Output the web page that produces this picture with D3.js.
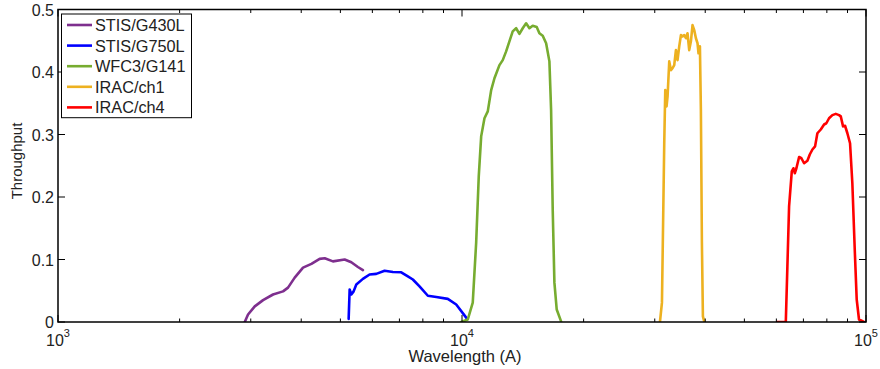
<!DOCTYPE html>
<html><head><meta charset="utf-8">
<script src="https://cdn.jsdelivr.net/npm/d3@7"></script>
<style>body{margin:0;background:#fff}svg{display:block}text{font-family:"Liberation Sans",Arial,sans-serif}</style>
</head><body><svg id="c" width="880" height="369"></svg>
<script>
const seriesNames = ["STIS/G430L","STIS/G750L","WFC3/G141","IRAC/ch1","IRAC/ch4"];
const seriesColors = ["#7E2F8E","#0000FF","#77AC30","#EDB120","#FF0000"];
const g430Wave = [2899,2954,3069,3218,3406,3606,3710,3854,4041,4239,4443,4573,4793,5123,5322,5525,5685];
const g430Thru = [0,0.012,0.025,0.035,0.044,0.049,0.055,0.071,0.087,0.093,0.101,0.102,0.097,0.100,0.0955,0.088,0.083];
const g750Wave = [5241,5271,5322,5392,5475,5685,5905,6135,6433,6745,7073,7345,7557,7850,8232,8637,9223,9676,10242];
const g750Thru = [0.005,0.052,0.044,0.049,0.060,0.069,0.076,0.077,0.082,0.080,0.0795,0.073,0.068,0.057,0.042,0.040,0.037,0.028,0.007];
const g141Wave = [9954,10335,10632,10841,11002,11155,11366,11582,11809,12032,12379,12614,12860,13103,13352,13614,13871,14135,14411,14686,14962,15308,15545,15842,16152,16457,16617,16770,16933,17157,17590];
const g141Thru = [0,0.004,0.031,0.127,0.233,0.297,0.326,0.337,0.371,0.390,0.411,0.419,0.433,0.449,0.465,0.470,0.461,0.470,0.478,0.470,0.474,0.472,0.462,0.458,0.446,0.417,0.339,0.180,0.063,0.020,0.001];
const ch1Wave = [30903,31255,31667,31851,32087,32273,32584,32901,33199,33521,33847,34159,34491,34826,35149,35490,35835,36159,36510,36865,37206,37567,37932,38282,38495,38806,39022,39248,39475,39767];
const ch1Thru = [0,0.031,0.286,0.371,0.345,0.361,0.417,0.403,0.406,0.411,0.435,0.419,0.441,0.459,0.457,0.459,0.454,0.462,0.435,0.449,0.475,0.467,0.454,0.446,0.430,0.441,0.339,0.127,0.009,0.001];
const ch4Wave = [60256,63314,63888,64508,65512,66117,66637,67253,68300,69203,70265,71605,72585,73680,74810,75798,77278,78751,79772,81013,82558,84171,85757,86603,87748,88744,89931,91309,92515,93785,94842,96097,98880];
const ch4Thru = [0,0,0.089,0.185,0.241,0.246,0.238,0.246,0.264,0.262,0.254,0.258,0.268,0.276,0.281,0.302,0.308,0.316,0.318,0.326,0.331,0.333,0.331,0.329,0.313,0.314,0.302,0.286,0.222,0.116,0.036,0.004,0];
const yTicks = [0,0.1,0.2,0.3,0.4,0.5];
const yTickLabels = ["0","0.1","0.2","0.3","0.4","0.5"];
const xMajor = [1e3,1e4,1e5];
const xMajorExp = ["3","4","5"];
const xLabel = "Wavelength (A)";
const yLabel = "Throughput";

const waves = [g430Wave,g750Wave,g141Wave,ch1Wave,ch4Wave];
const thrus = [g430Thru,g750Thru,g141Thru,ch1Thru,ch4Thru];

const L=58, R=866, T=9.5, B=322;
const svg = d3.select("#c");
const x = d3.scaleLog().domain([1e3,1e5]).range([L,R]);
const y = d3.scaleLinear().domain([0,0.5]).range([B,T]);

svg.append("defs").append("clipPath").attr("id","clip").append("rect")
  .attr("x",L).attr("y",T-3).attr("width",R-L).attr("height",B-T+3);

const line = d3.line().x(d=>x(d[0])).y(d=>y(d[1]));
const gl = svg.append("g").attr("clip-path","url(#clip)");
waves.forEach((w,i)=>{
  gl.append("path").datum(w.map((v,j)=>[v,thrus[i][j]]))
    .attr("d",line).attr("fill","none").attr("stroke",seriesColors[i])
    .attr("stroke-width",2.6).attr("stroke-linejoin","round").attr("stroke-linecap","round");
});

// box
svg.append("rect").attr("x",L).attr("y",T).attr("width",R-L).attr("height",B-T)
  .attr("fill","none").attr("stroke","#000").attr("stroke-width",1.5);

// ticks
const minor = [];
[1e3,1e4].forEach(d=>{for(let k=2;k<=9;k++)minor.push(d*k);});
const tk = svg.append("g").attr("stroke","#000").attr("stroke-width",1);
minor.forEach(v=>{
  tk.append("line").attr("x1",x(v)).attr("x2",x(v)).attr("y1",B).attr("y2",B-3.5);
  tk.append("line").attr("x1",x(v)).attr("x2",x(v)).attr("y1",T).attr("y2",T+3.5);
});
xMajor.forEach(v=>{
  tk.append("line").attr("x1",x(v)).attr("x2",x(v)).attr("y1",B).attr("y2",B-7);
  tk.append("line").attr("x1",x(v)).attr("x2",x(v)).attr("y1",T).attr("y2",T+7);
});
yTicks.forEach(v=>{
  tk.append("line").attr("x1",L).attr("x2",L+7).attr("y1",y(v)).attr("y2",y(v));
  tk.append("line").attr("x1",R).attr("x2",R-7).attr("y1",y(v)).attr("y2",y(v));
});

// y tick labels
yTicks.forEach((v,i)=>{
  svg.append("text").attr("x",L-4).attr("y",y(v)+6).attr("text-anchor","end")
    .attr("font-size","16px").attr("fill","#222").text(yTickLabels[i]);
});
// x tick labels
xMajor.forEach((v,i)=>{
  const t = svg.append("text").attr("x",x(v)).attr("y",345.5).attr("text-anchor","middle")
    .attr("font-size","16px").attr("fill","#222");
  t.append("tspan").text("10");
  t.append("tspan").attr("font-size","11px").attr("dy",-9).text(xMajorExp[i]);
});

svg.append("text").attr("x",465).attr("y",362).attr("text-anchor","middle")
  .attr("font-size","16.5px").attr("fill","#222").text(xLabel);
svg.append("text").attr("transform","translate(22,161) rotate(-90)").attr("text-anchor","middle")
  .attr("font-size","15px").attr("fill","#222").text(yLabel);

// legend
const lg = svg.append("g");
lg.append("rect").attr("x",61.5).attr("y",14).attr("width",130).attr("height",103.7)
  .attr("fill","#fff").attr("stroke","#000").attr("stroke-width",1);
seriesNames.forEach((n,i)=>{
  const yy = 25 + i*20.6;
  lg.append("line").attr("x1",67).attr("x2",92).attr("y1",yy).attr("y2",yy)
    .attr("stroke",seriesColors[i]).attr("stroke-width",2.6);
  lg.append("text").attr("x",95).attr("y",yy+6).attr("font-size","16.3px").attr("fill","#222").text(n);
});
</script></body></html>
